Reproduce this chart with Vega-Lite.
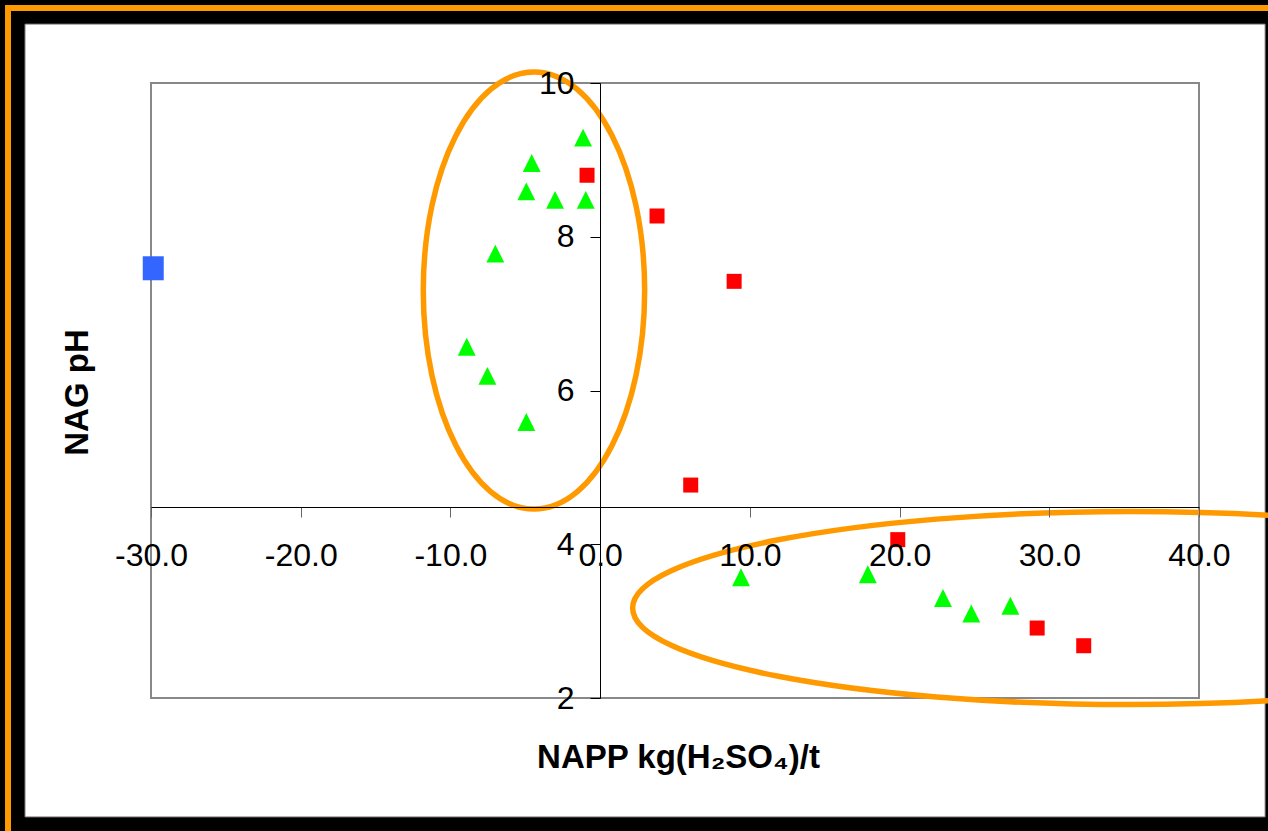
{
  "$schema": "https://vega.github.io/schema/vega-lite/v6.json",
  "autosize": {"type": "none"},
  "width": 1048,
  "height": 615,
  "padding": {"left": 151, "top": 83, "right": 69, "bottom": 133},
  "background": "#000000",
  "config": {"view": {"stroke": null}},
  "datasets": {
    "panel": [{"x": -38.42, "x2": 44.42, "y": 10.767, "y2": 0.452}],
    "border": [{"x": -39.55, "x2": 47, "y": 10.976, "y2": -0.3}],
    "plotframe": [{"x": -30, "x2": 40, "y": 10, "y2": 2}],
    "points": [
      {"group": "blue", "x": -29.85, "y": 7.59},
      {"group": "red", "x": -0.875, "y": 8.80},
      {"group": "red", "x": 3.80, "y": 8.27},
      {"group": "red", "x": 8.95, "y": 7.42},
      {"group": "red", "x": 6.05, "y": 4.77},
      {"group": "red", "x": 19.88, "y": 4.06},
      {"group": "red", "x": 29.19, "y": 2.91},
      {"group": "red", "x": 32.3, "y": 2.68},
      {"group": "green", "x": -1.14, "y": 9.29},
      {"group": "green", "x": -4.57, "y": 8.96},
      {"group": "green", "x": -4.93, "y": 8.59},
      {"group": "green", "x": -3.01, "y": 8.48},
      {"group": "green", "x": -0.96, "y": 8.48},
      {"group": "green", "x": -7.0, "y": 7.78},
      {"group": "green", "x": -8.91, "y": 6.57},
      {"group": "green", "x": -7.53, "y": 6.19},
      {"group": "green", "x": -4.93, "y": 5.59},
      {"group": "green", "x": 9.41, "y": 3.57},
      {"group": "green", "x": 17.88, "y": 3.61},
      {"group": "green", "x": 22.9, "y": 3.30},
      {"group": "green", "x": 24.79, "y": 3.10},
      {"group": "green", "x": 27.4, "y": 3.20}
    ],
    "ellipses": [
      {"name": "left", "x": -4.42, "y": 7.30},
      {"name": "right", "x": 35.4, "y": 3.17}
    ]
  },
  "encoding": {
    "x": {
      "field": "x", "type": "quantitative",
      "scale": {"domain": [-30, 40], "nice": false, "zero": false},
      "axis": {
        "orient": "bottom", "offset": -191, "zindex": 1,
        "values": [-30, -20, -10, 0, 10, 20, 30, 40], "format": ".1f",
        "labelExpr": "replace(datum.label, '\u2212', '-')",
        "grid": false, "domainColor": "#000000", "domainWidth": 1,
        "tickColor": "#666666", "tickSize": 10, "tickWidth": 1,
        "labelFont": "Liberation Sans", "labelFontSize": 32, "labelColor": "#000000",
        "labelPadding": 23, "labelOverlap": false, "labelBound": false, "labelFlush": false,
        "title": "NAPP kg(H₂SO₄)/t", "titleFont": "Liberation Sans", "titleFontSize": 33,
        "titleFontWeight": "bold", "titleColor": "#000000",
        "titleBaseline": "alphabetic", "titleY": 260, "titleX": 527
      }
    },
    "y": {
      "field": "y", "type": "quantitative",
      "scale": {"domain": [2, 10], "nice": false, "zero": false},
      "axis": {
        "orient": "left", "offset": -449, "zindex": 1,
        "values": [2, 4, 6, 8, 10], "format": "d",
        "grid": false, "domainColor": "#000000", "domainWidth": 1,
        "tickColor": "#000000", "tickSize": 10, "tickWidth": 1,
        "labelFont": "Liberation Sans", "labelFontSize": 32, "labelColor": "#000000",
        "labelPadding": 16, "labelOverlap": false, "labelBound": false, "labelFlush": false,
        "title": "NAG pH", "titleFont": "Liberation Sans", "titleFontSize": 33,
        "titleFontWeight": "bold", "titleColor": "#000000",
        "titleAngle": 270, "titleBaseline": "middle", "titleAlign": "center", "titleX": -523, "titleY": 309
      }
    }
  },
  "layer": [
    {
      "data": {"name": "border"},
      "mark": {"type": "rect", "fillOpacity": 0, "stroke": "#FF9900", "strokeWidth": 6},
      "encoding": {"x2": {"field": "x2"}, "y2": {"field": "y2"}}
    },
    {
      "data": {"name": "panel"},
      "mark": {"type": "rect", "fill": "#FFFFFF", "stroke": "#666666", "strokeWidth": 1},
      "encoding": {"x2": {"field": "x2"}, "y2": {"field": "y2"}}
    },
    {
      "data": {"name": "plotframe"},
      "mark": {"type": "rect", "fillOpacity": 0, "stroke": "#888888", "strokeWidth": 2},
      "encoding": {"x2": {"field": "x2"}, "y2": {"field": "y2"}}
    },
    {
      "data": {"name": "points"},
      "transform": [{"filter": "datum.group === 'blue'"}],
      "mark": {"type": "point", "filled": true, "opacity": 1, "fill": "#3366FF", "strokeWidth": 0,
               "shape": "M-0.875,-1H0.875V1H-0.875Z", "size": 576}
    },
    {
      "data": {"name": "points"},
      "transform": [{"filter": "datum.group === 'red'"}],
      "mark": {"type": "point", "filled": true, "opacity": 1, "fill": "#FF0000", "strokeWidth": 0,
               "shape": "square", "size": 225}
    },
    {
      "data": {"name": "points"},
      "transform": [{"filter": "datum.group === 'green'"}],
      "mark": {"type": "point", "filled": true, "opacity": 1, "fill": "#00FF00", "strokeWidth": 0,
               "shape": "M0,-1L1,1L-1,1Z", "size": 320}
    },
    {
      "data": {"name": "ellipses"},
      "transform": [{"filter": "datum.name === 'left'"}],
      "mark": {"type": "point", "filled": false, "opacity": 1, "stroke": "#FF9900", "strokeWidth": 5.5,
               "shape": "M-1,0A1,1.974,0,1,0,1,0A1,1.974,0,1,0,-1,0Z", "size": 49018}
    },
    {
      "data": {"name": "ellipses"},
      "transform": [{"filter": "datum.name === 'right'"}],
      "mark": {"type": "point", "filled": false, "opacity": 1, "stroke": "#FF9900", "strokeWidth": 5.5,
               "shape": "M-1,0A1,0.194,0,1,0,1,0A1,0.194,0,1,0,-1,0Z", "size": 990025}
    }
  ]
}
